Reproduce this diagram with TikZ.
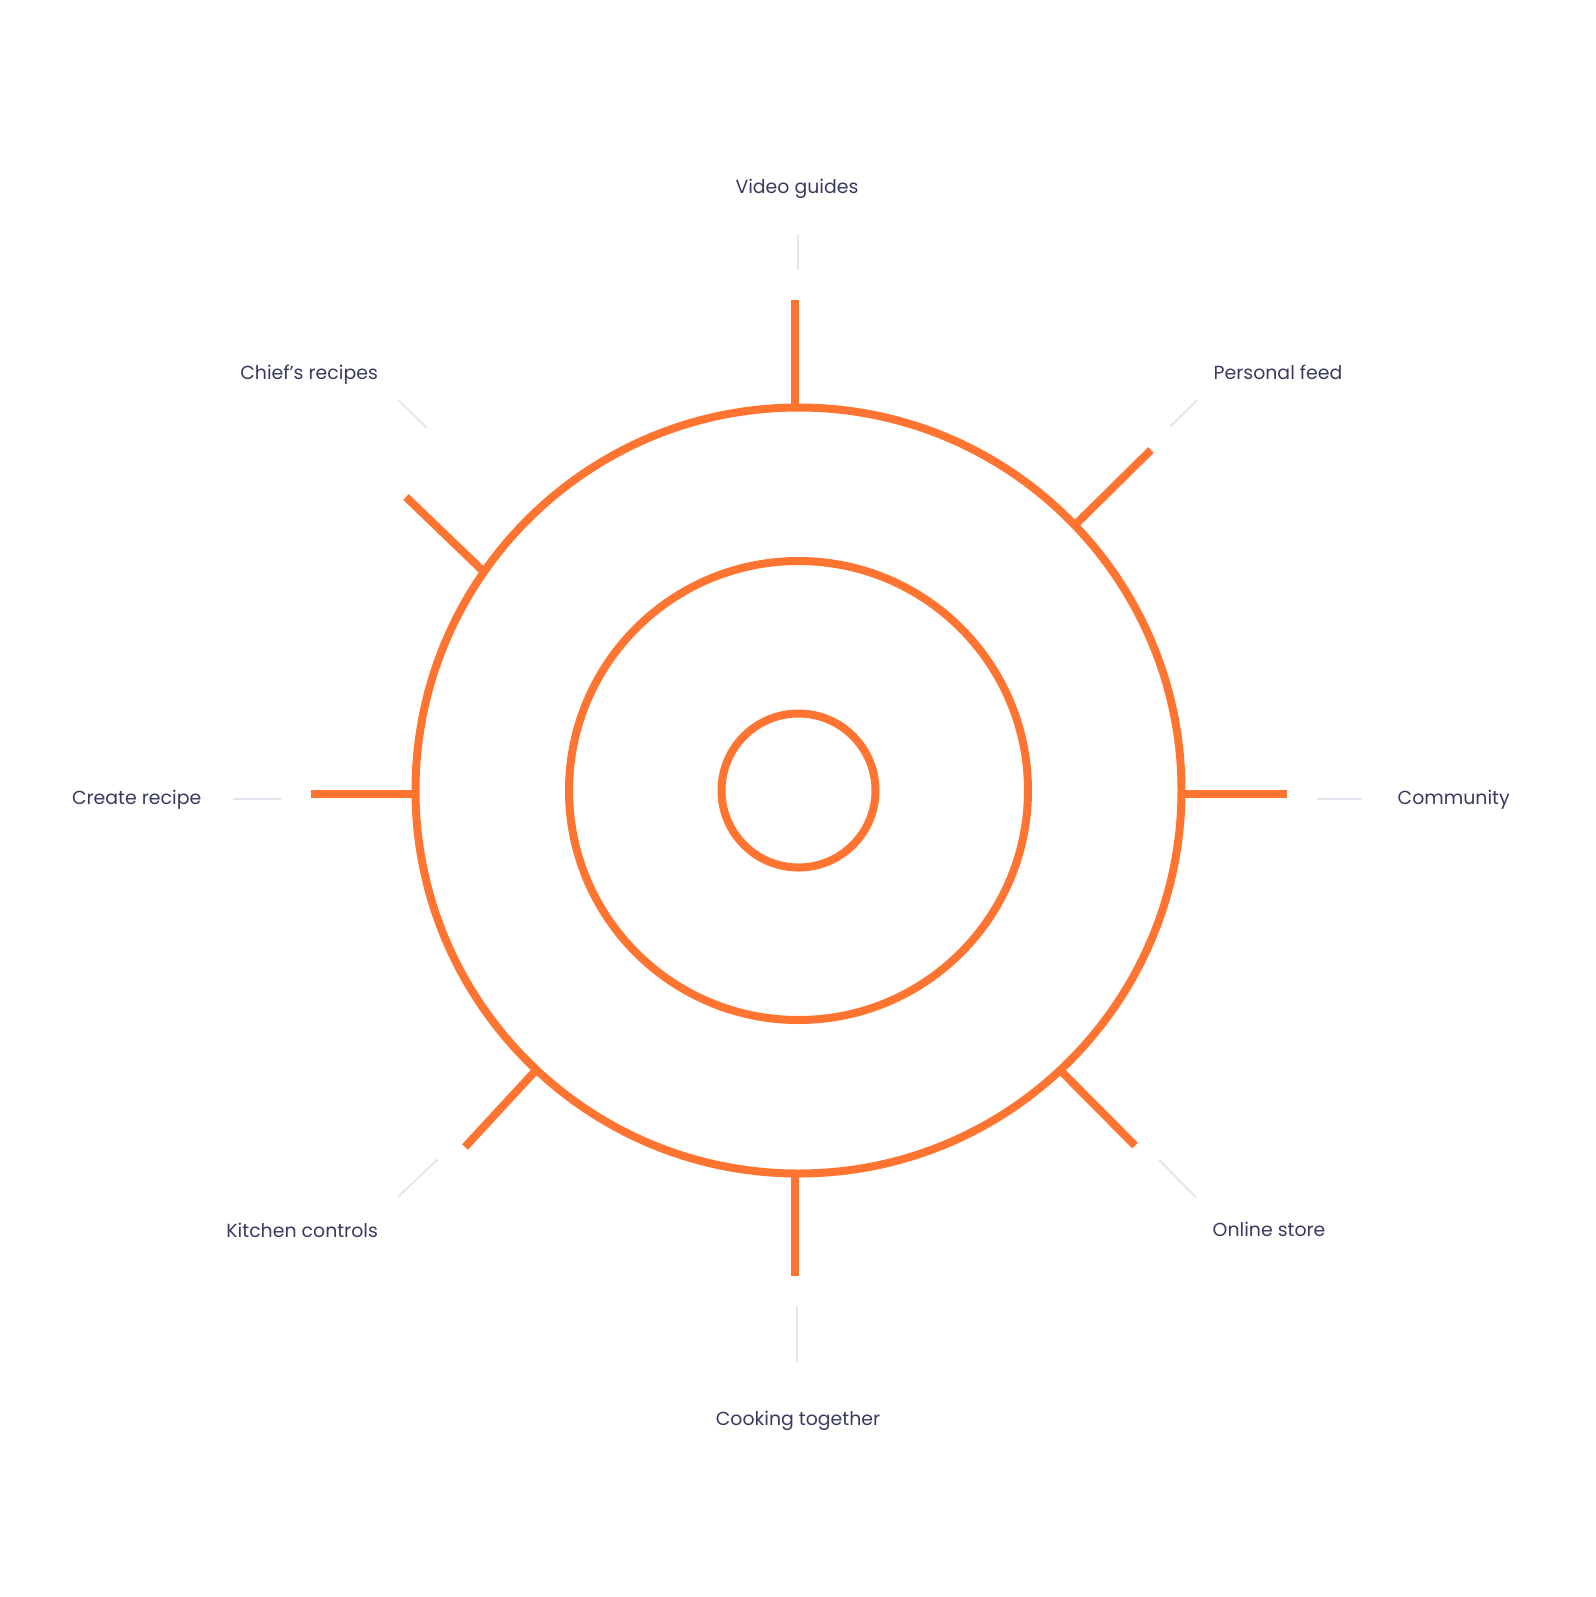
\documentclass[tikz,border=0pt]{standalone}
\usepackage{fontspec}
\setmainfont{Poppins}
\definecolor{spokeor}{RGB}{255,116,48}
\definecolor{labelnavy}{RGB}{58,58,98}
\definecolor{tickgray}{RGB}{226,230,241}
\tikzset{
  ring/.style={draw=spokeor, line width=4pt},
  spoke/.style={draw=spokeor, line width=4pt},
  tick/.style={draw=tickgray, line width=0.9pt},
  lbl/.style={inner sep=0pt, text=labelnavy, font=\fontsize{9.45}{11}\selectfont}
}
\begin{document}
\begin{tikzpicture}[x=0.5pt, y=-0.5pt]
\useasboundingbox[fill=white] (0,0) rectangle (1596,1597);
% rings
\coordinate (c) at (798.5,790.5);
\draw[ring] (c) circle[radius=77];
\draw[ring] (c) circle[radius=229.5];
\draw[ring] (c) circle[radius=383];
% spoke endpoints
\coordinate (vgA) at (795,407.5);   \coordinate (vgB) at (795,300);
\coordinate (pfA) at (1075,525);    \coordinate (pfB) at (1151,450);
\coordinate (cmA) at (1181,794);    \coordinate (cmB) at (1287,794);
\coordinate (osA) at (1058,1068);   \coordinate (osB) at (1135,1145.5);
\coordinate (ctA) at (795,1173);    \coordinate (ctB) at (795,1276);
\coordinate (kcA) at (538,1068);    \coordinate (kcB) at (465,1147);
\coordinate (crA) at (416,794);     \coordinate (crB) at (310.7,794);
\coordinate (chA) at (484,572);     \coordinate (chB) at (406,497);
\draw[spoke] (vgA) -- (vgB);
\draw[spoke] (pfA) -- (pfB);
\draw[spoke] (cmA) -- (cmB);
\draw[spoke] (osA) -- (osB);
\draw[spoke] (ctA) -- (ctB);
\draw[spoke] (kcA) -- (kcB);
\draw[spoke] (crA) -- (crB);
\draw[spoke] (chA) -- (chB);
% grey ticks
\coordinate (vgT1) at (797.7,270);  \coordinate (vgT2) at (797.7,235);
\coordinate (pfT1) at (1170,426.7); \coordinate (pfT2) at (1196.7,400.5);
\coordinate (cmT1) at (1316.7,799.3); \coordinate (cmT2) at (1361.7,799.3);
\coordinate (osT1) at (1159.3,1160); \coordinate (osT2) at (1196,1197.3);
\coordinate (ctT1) at (797.3,1305.7); \coordinate (ctT2) at (797.3,1363.3);
\coordinate (kcT1) at (437.7,1159.3); \coordinate (kcT2) at (398.3,1196.7);
\coordinate (crT1) at (280.7,799.3); \coordinate (crT2) at (233.3,799.3);
\coordinate (chT1) at (426.7,427.7); \coordinate (chT2) at (398.3,400);
\draw[tick] (vgT1) -- (vgT2);
\draw[tick] (pfT1) -- (pfT2);
\draw[tick] (cmT1) -- (cmT2);
\draw[tick] (osT1) -- (osT2);
\draw[tick] (ctT1) -- (ctT2);
\draw[tick] (kcT1) -- (kcT2);
\draw[tick] (crT1) -- (crT2);
\draw[tick] (chT1) -- (chT2);
% labels
\node[lbl, anchor=base] (vg) at (797,193) {Video guides};
\node[lbl, anchor=base west] (pf) at (1213.3,379.3) {Personal feed};
\node[lbl, anchor=base west] (cm) at (1397.3,804.3) {Community};
\node[lbl, anchor=base west] (os) at (1212.3,1236.7) {Online store};
\node[lbl, anchor=base] (ct) at (798,1425) {Cooking together};
\node[lbl, anchor=base east] (kc) at (378.3,1237.7) {Kitchen controls};
\node[lbl, anchor=base west] (cr) at (71.7,804.3) {Create recipe};
\node[lbl, anchor=base east] (ch) at (378.3,379.3) {Chief’s recipes};
\end{tikzpicture}
\end{document}
